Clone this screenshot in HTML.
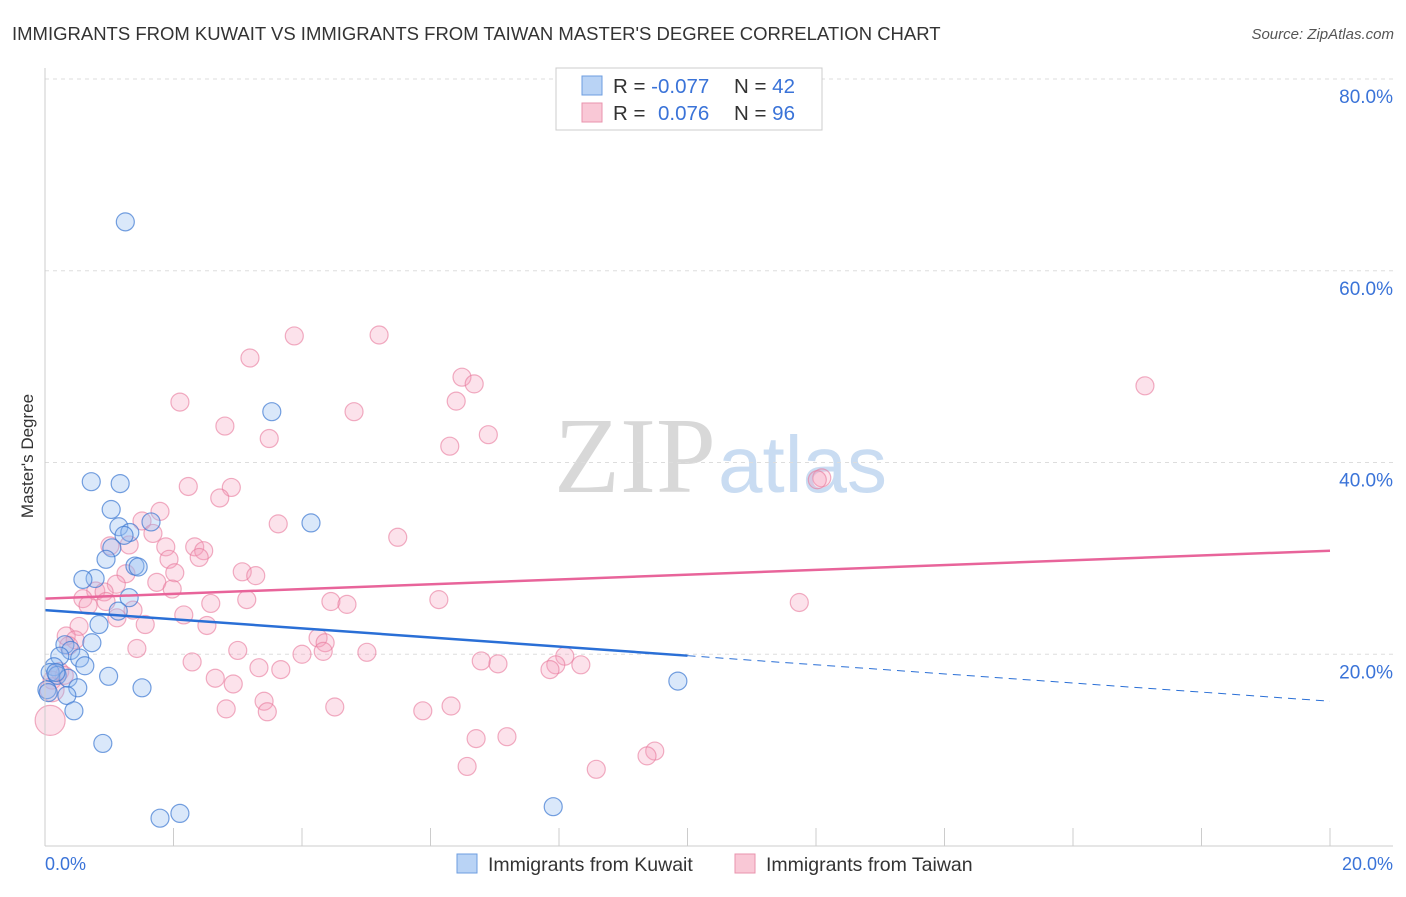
<!DOCTYPE html>
<html><head><meta charset="utf-8"><style>
body{margin:0;background:#fff;font-family:"Liberation Sans",sans-serif}
</style></head><body>
<svg id="chart" width="1406" height="892" xmlns="http://www.w3.org/2000/svg" font-family="Liberation Sans, sans-serif">
<text x="12" y="40" font-size="18.5" fill="#333">IMMIGRANTS FROM KUWAIT VS IMMIGRANTS FROM TAIWAN MASTER'S DEGREE CORRELATION CHART</text>
<text x="1394" y="39" font-size="15" fill="#555" text-anchor="end" font-style="italic">Source: ZipAtlas.com</text>
<text x="716" y="492" font-size="108" text-anchor="end" fill="#d8d8d8" font-family="Liberation Serif, serif">ZIP</text>
<text x="718" y="492" font-size="80" fill="#c9dcf2">atlas</text>
<g id="grid"></g><g id="marks"></g><g id="trends"></g>
<line x1="45" y1="846" x2="1393" y2="846" stroke="#ccc"/>
<line x1="45" y1="68" x2="45" y2="846" stroke="#ccc"/>
<text transform="translate(33,456) rotate(-90)" font-size="17" fill="#333" text-anchor="middle">Master's Degree</text>
<text x="45" y="870" font-size="18" fill="#3a73d8">0.0%</text>
<text x="1393" y="870" font-size="18" fill="#3a73d8" text-anchor="end">20.0%</text>
<g>
<rect x="556" y="68" width="266" height="62" fill="#fff" stroke="#ccc"/>
<rect x="582" y="76" width="20" height="19" fill="#b9d3f5" stroke="#6d9ee0"/>
<rect x="582" y="103" width="20" height="19" fill="#f9c8d6" stroke="#e993ad"/>
<text x="613" y="93" font-size="20.5" fill="#333">R = <tspan fill="#3a73d8">-0.077</tspan></text>
<text x="734" y="93" font-size="20.5" fill="#333">N = <tspan fill="#3a73d8">42</tspan></text>
<text x="613" y="120" font-size="20.5" fill="#333">R = <tspan fill="#3a73d8" x="658">0.076</tspan></text>
<text x="734" y="120" font-size="20.5" fill="#333">N = <tspan fill="#3a73d8">96</tspan></text>
</g>
<g>
<rect x="457" y="854" width="20" height="19" fill="#b9d3f5" stroke="#6d9ee0"/>
<text x="488" y="871" font-size="19.5" fill="#333">Immigrants from Kuwait</text>
<rect x="735" y="854" width="20" height="19" fill="#f9c8d6" stroke="#e993ad"/>
<text x="766" y="871" font-size="19.5" fill="#333">Immigrants from Taiwan</text>
</g>
</svg>
<script>
const yTicks=[20,40,60,80];
const xTicks=[0,2,4,6,8,10,12,14,16,18,20];
const kuwaitX=[1.25,3.53,0.72,1.17,4.14,1.03,1.15,1.32,1.23,1.65,1.04,0.95,1.40,1.45,0.78,0.59,1.31,1.14,0.84,0.73,0.31,0.40,0.23,0.54,0.62,0.14,0.08,0.19,0.36,0.99,1.51,0.51,0.03,0.34,0.45,0.90,1.79,2.10,7.91,9.85,0.17,0.05];
const kuwaitY=[65.1,45.3,38.0,37.8,33.7,35.1,33.3,32.7,32.4,33.8,31.1,29.9,29.2,29.1,27.9,27.8,25.9,24.5,23.1,21.2,21.0,20.4,19.8,19.6,18.8,18.7,18.1,17.8,17.5,17.7,16.5,16.5,16.3,15.7,14.1,10.7,2.9,3.4,4.1,17.2,18.1,16.0];
const taiwanX=[17.12,3.88,5.20,3.19,6.49,6.68,2.10,6.40,4.81,2.80,3.49,6.90,6.30,12.09,12.02,2.23,2.90,2.72,1.79,3.63,1.51,1.68,5.49,1.01,1.31,1.88,2.33,2.47,1.93,2.40,3.07,1.26,2.02,3.28,1.74,1.11,1.98,0.79,0.92,0.59,0.95,3.14,2.58,4.45,4.70,6.13,11.74,0.67,1.37,1.12,2.16,1.56,2.52,0.53,0.33,0.47,4.25,4.36,0.37,1.43,3.00,5.01,4.00,4.33,8.09,2.29,6.79,7.05,3.33,7.95,8.34,7.86,3.67,0.23,0.30,2.65,2.93,0.11,3.41,2.82,3.46,4.51,5.88,6.32,6.71,7.19,9.49,9.37,6.57,8.58,0.08,0.11];
const taiwanY=[48.0,53.2,53.3,50.9,48.9,48.2,46.3,46.4,45.3,43.8,42.5,42.9,41.7,38.4,38.2,37.5,37.4,36.3,34.9,33.6,33.9,32.6,32.2,31.3,31.4,31.2,31.2,30.8,29.9,30.1,28.6,28.4,28.5,28.2,27.5,27.3,26.8,26.6,26.5,25.8,25.5,25.7,25.3,25.5,25.2,25.7,25.4,25.1,24.6,23.8,24.1,23.1,23.0,22.9,21.9,21.5,21.7,21.2,20.9,20.6,20.4,20.2,20.0,20.3,19.8,19.2,19.3,19.0,18.6,18.9,18.9,18.4,18.4,18.2,17.8,17.5,16.9,17.3,15.1,14.3,14.0,14.5,14.1,14.6,11.2,11.4,9.9,9.4,8.3,8.0,13.1,16.3];
const taiwanR=[9,9,9,9,9,9,9,9,9,9,9,9,9,9,9,9,9,9,9,9,9,9,9,9,9,9,9,9,9,9,9,9,9,9,9,9,9,9,9,9,9,9,9,9,9,9,9,9,9,9,9,9,9,9,9,9,9,9,9,9,9,9,9,9,9,9,9,9,9,9,9,9,9,9,9,9,9,9,9,9,9,9,9,9,9,9,9,9,9,9,15,12];
const kuwaitTrend=[24.6,15.1];
const taiwanTrend=[25.8,30.8];
const NS='http://www.w3.org/2000/svg';
const sx=v=>45+v*64.25, sy=v=>846-v*9.5875;
function mk(tag,attrs,parent){const e=document.createElementNS(NS,tag);for(const k in attrs)e.setAttribute(k,attrs[k]);document.getElementById(parent).appendChild(e);return e;}
yTicks.forEach(t=>{
 const l=mk('line',{x1:45,x2:1393,y1:sy(t),y2:sy(t),stroke:'#ddd','stroke-dasharray':'4,4'},'grid');
 
 
 const tx=mk('text',{x:1393,y:sy(t)+24,'font-size':19,fill:'#3a73d8','text-anchor':'end'},'grid');
 tx.textContent=t.toFixed(1)+'%';
 
 
});
xTicks.forEach(t=>{
 const l=mk('line',{x1:sx(t),x2:sx(t),y1:828,y2:846,stroke:'#ccc'},'grid');
 
 
});
taiwanX.forEach((x,i)=>{
 const c=mk('circle',{cx:sx(x),cy:sy(taiwanY[i]),r:taiwanR[i],fill:'rgba(244,160,188,0.3)',stroke:'rgba(232,120,155,0.6)','stroke-width':1.2},'marks');
 
 
});
kuwaitX.forEach((x,i)=>{
 const c=mk('circle',{cx:sx(x),cy:sy(kuwaitY[i]),r:9,fill:'rgba(150,190,240,0.35)',stroke:'rgba(60,120,210,0.7)','stroke-width':1.2},'marks');
 
 
});
const kMid=kuwaitTrend[0]+(kuwaitTrend[1]-kuwaitTrend[0])*0.5;
let l1=mk('line',{x1:sx(0),y1:sy(kuwaitTrend[0]),x2:sx(10),y2:sy(kMid),stroke:'#2a6fd6','stroke-width':2.5},'trends');


let l2=mk('line',{x1:sx(10),y1:sy(kMid),x2:sx(20),y2:sy(kuwaitTrend[1]),stroke:'#2a6fd6','stroke-width':1,'stroke-dasharray':'8,6'},'trends');


let l3=mk('line',{x1:sx(0),y1:sy(taiwanTrend[0]),x2:sx(20),y2:sy(taiwanTrend[1]),stroke:'#e8649a','stroke-width':2.5},'trends');


</script>
</body></html>
